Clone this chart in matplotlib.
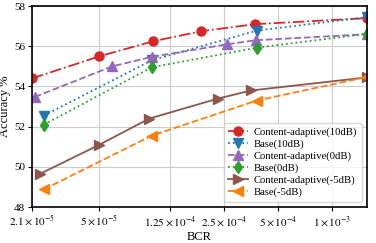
import matplotlib
matplotlib.use("Agg")
import matplotlib.pyplot as plt

plt.rcParams["font.family"] = ["Liberation Serif", "DejaVu Serif"]
plt.rcParams["mathtext.fontset"] = "stix"

# BCR values and accuracies
bcr_ca10 = [2.1e-5, 5.0e-5, 1.0e-4, 1.86e-4, 3.72e-4, 1.57e-3]
acc_ca10 = [54.4, 55.5, 56.25, 56.75, 57.1, 57.4]

bcr_base10 = [2.45e-5, 9.8e-5, 3.8e-4, 1.57e-3]
acc_base10 = [52.55, 55.3, 56.78, 57.45]

bcr_ca0 = [2.18e-5, 5.9e-5, 9.8e-5, 2.6e-4, 3.75e-4, 1.57e-3]
acc_ca0 = [53.48, 55.0, 55.47, 56.1, 56.3, 56.6]

bcr_base0 = [2.45e-5, 9.8e-5, 3.8e-4, 1.57e-3]
acc_base0 = [52.1, 54.95, 55.93, 56.62]

bcr_ca_m5 = [2.33e-5, 5.0e-5, 9.5e-5, 2.31e-4, 3.53e-4, 1.57e-3]
acc_ca_m5 = [49.65, 51.1, 52.4, 53.4, 53.8, 54.45]

bcr_base_m5 = [2.45e-5, 9.8e-5, 3.8e-4, 1.57e-3]
acc_base_m5 = [48.88, 51.55, 53.3, 54.47]

xticks = [2.1e-5, 5e-5, 1.25e-4, 2.5e-4, 5e-4, 1e-3]
xticklabels = [r"$2.1\times10^{-5}$", r"$5\times10^{-5}$", r"$1.25\times10^{-4}$",
               r"$2.5\times10^{-4}$", r"$5\times10^{-4}$", r"$1\times10^{-3}$"]

fig = plt.figure(figsize=(3.76, 2.43), dpi=100)
ax = fig.add_axes([0.085, 0.148, 0.891, 0.827])

lw = 1.3
ms = 6.5
ax.plot(bcr_ca10, acc_ca10, color="tab:red", linestyle="-.", marker="o",
        lw=lw, ms=ms, label="Content-adaptive(10dB)")
ax.plot(bcr_base10, acc_base10, color="tab:blue", linestyle=":", marker="v",
        lw=lw, ms=ms, label="Base(10dB)")
ax.plot(bcr_ca0, acc_ca0, color="tab:purple", linestyle="--", marker="^",
        lw=lw, ms=ms, label="Content-adaptive(0dB)")
ax.plot(bcr_base0, acc_base0, color="tab:green", linestyle=":", marker="d",
        lw=lw, ms=ms, label="Base(0dB)")
ax.plot(bcr_ca_m5, acc_ca_m5, color="tab:brown", linestyle="-", marker=">",
        lw=lw, ms=ms, label="Content-adaptive(-5dB)")
ax.plot(bcr_base_m5, acc_base_m5, color="tab:orange", linestyle="--", marker="<",
        lw=lw, ms=ms, label="Base(-5dB)")

ax.set_xscale("log")
ax.set_xlim(2.1e-5, 1.57e-3)
ax.set_ylim(48, 58)
ax.set_xticks(xticks)
ax.set_xticklabels(xticklabels, fontsize=8)
ax.minorticks_off()
ax.set_yticks([48, 50, 52, 54, 56, 58])
ax.tick_params(axis="y", labelsize=8, length=3, pad=2)
ax.tick_params(axis="x", length=3, pad=2)
ax.grid(True, color="#cccccc", lw=0.8)
for sp in ax.spines.values():
    sp.set_linewidth(1.2)

ax.set_xlabel("BCR", fontsize=9, labelpad=2)
ax.set_ylabel("Accuracy %", fontsize=9, labelpad=2)

ax.legend(loc="lower right", fontsize=7.7, handlelength=1.8, labelspacing=0.22,
          borderpad=0.4, handletextpad=0.6, framealpha=0.8)

fig.savefig("out.png", dpi=100)
